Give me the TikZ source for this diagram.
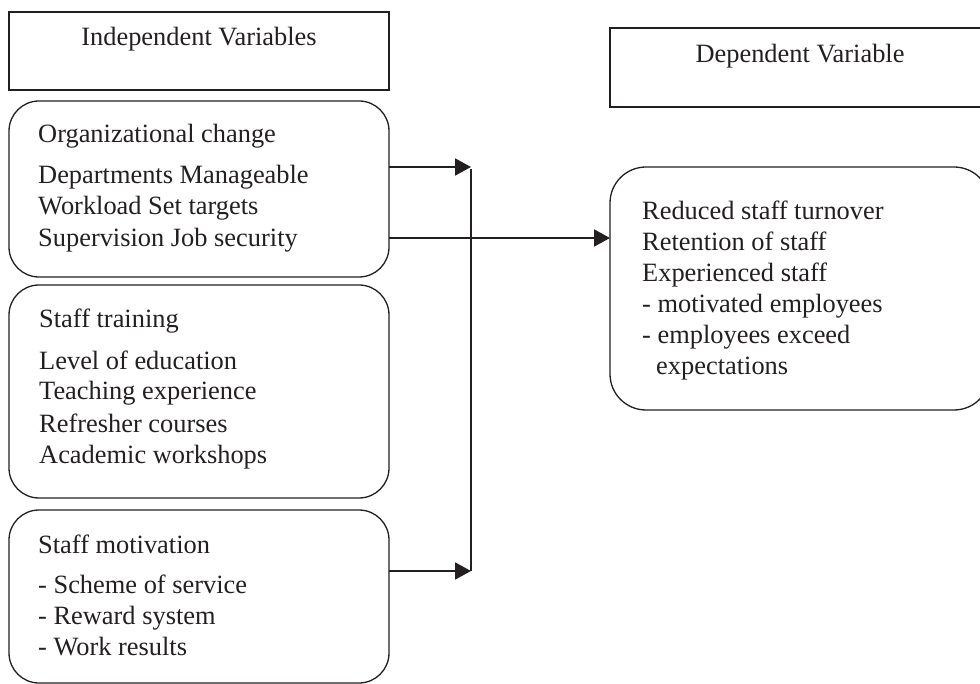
\documentclass[tikz,border=0pt]{standalone}
\usepackage{fontspec}
\setmainfont{Liberation Serif}
\usetikzlibrary{arrows.meta}
\definecolor{ink}{HTML}{231F20}
\begin{document}
\begin{tikzpicture}[x=1pt,y=-1pt,
  sqbox/.style={draw=ink,line width=1.3pt,rectangle,inner sep=0pt,outer sep=0pt},
  rbox/.style={sqbox,rounded corners=30pt},
  txt/.style={anchor=base west,inner sep=0pt,text=ink,font=\fontsize{26.4}{31}\selectfont},
  ctxt/.style={txt,anchor=base},
  arr/.style={draw=ink,line width=2pt,-{Triangle[length=16pt,width=17pt]}},
  conn/.style={draw=ink,line width=2pt}]
\useasboundingbox (0,0) rectangle (980,684);
\clip (0,0) rectangle (980,684);
% boxes
\node[sqbox,minimum width=380pt,minimum height=78pt] (indep) at (199,51) {};
\node[sqbox,minimum width=380pt,minimum height=79pt] (dep) at (800,67.5) {};
\node[rbox,minimum width=380pt,minimum height=176pt] (org) at (199,189) {};
\node[rbox,minimum width=380pt,minimum height=213pt] (train) at (199,391.5) {};
\node[rbox,minimum width=380pt,minimum height=173pt] (motiv) at (199,596.5) {};
\node[rbox,rounded corners=36pt,minimum width=380pt,minimum height=243pt] (res) at (800,288.5) {};
% headers
\node[ctxt] (tind) at (199,46) {Independent Variables};
\node[ctxt] (tdep) at (800,63) {Dependent Variable};
% org text
\node[txt] (o1) at (38,143) {Organizational change};
\node[txt] (o2) at (38,184) {Departments Manageable};
\node[txt] (o3) at (38,215) {Workload Set targets};
\node[txt] (o4) at (38,246.5) {Supervision Job security};
% training text
\node[txt] (t1) at (39,328) {Staff training};
\node[txt] (t2) at (39,370) {Level of education};
\node[txt] (t3) at (39,400) {Teaching experience};
\node[txt] (t4) at (39,432) {Refresher courses};
\node[txt] (t5) at (39,463) {Academic workshops};
% motivation text
\node[txt] (m1) at (38,553) {Staff motivation};
\node[txt] (m2) at (38,593) {- Scheme of service};
\node[txt] (m3) at (38,624) {- Reward system};
\node[txt] (m4) at (38,655) {- Work results};
% result text
\node[txt] (r1) at (642,220) {Reduced staff turnover};
\node[txt] (r2) at (642,250.5) {Retention of staff};
\node[txt] (r3) at (642,282) {Experienced staff};
\node[txt] (r4) at (642,312.5) {- motivated employees};
\node[txt] (r5) at (642,343.5) {- employees exceed};
\node[txt] (r6) at (656,374.5) {expectations};
% connectors
\coordinate (ta) at (471,167);
\coordinate (vt) at (471,169);
\coordinate (vb) at (471,571);
\coordinate (ba) at (471,571);
\draw[arr] (org.east |- ta) -- (ta);
\draw[arr] (org.east |- 0,238) -- (res.west |- 0,238);
\draw[arr] (motiv.east |- ba) -- (ba);
\draw[conn] (vt) -- (vb);
\end{tikzpicture}
\end{document}
